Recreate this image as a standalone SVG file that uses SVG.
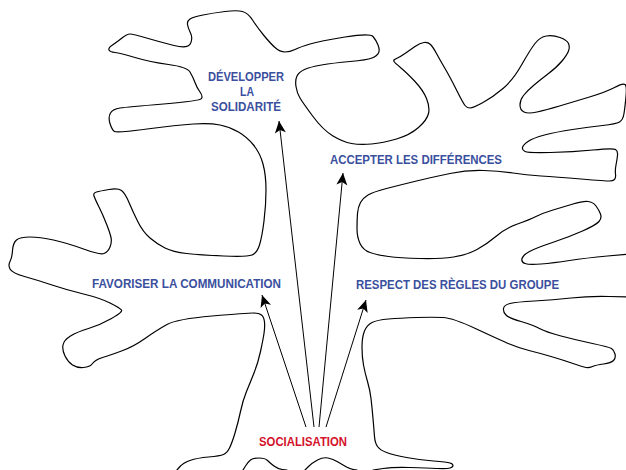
<svg xmlns="http://www.w3.org/2000/svg" width="626" height="470" viewBox="0 0 626 470">
<style>
.outline{fill:none;stroke:#000;stroke-width:1.2;stroke-linejoin:round;stroke-linecap:round}
.arrow{fill:none;stroke:#000;stroke-width:1}
.lbl{font-family:"Liberation Sans",Arial,sans-serif;font-weight:bold;font-size:13px;fill:#3a4f9e}
.root{font-family:"Liberation Sans",Arial,sans-serif;font-weight:bold;font-size:13px;fill:#d4112b}
</style>
<defs>
<marker id="head" markerUnits="userSpaceOnUse" markerWidth="14" markerHeight="12" refX="0" refY="0" viewBox="-13 -6 14 12" orient="auto">
<path d="M0,0 L-12,-5.5 L-9,0 L-12,5.5 Z" fill="#000"/>
</marker>
</defs>
<rect width="626" height="470" fill="#fff"/>
<g id="tree">
<path class="outline" d="M177,470 L180,466.5 Q183,463 190,460.5 Q197,458 208.5,457 Q220,456 223.5,454.5 Q227,453 229.5,448 Q232,443 235,433 Q238,423 240.5,411.5 Q243,400 246.5,391.5 Q250,383 254,373 Q258,363 260.5,351.5 Q263,340 264,333.5 Q265,327 264.5,322 Q264,317 261.5,315 Q259,313 253,313 Q247,313 212,316 Q177,319 167,324.5 Q157,330 145,338.5 Q133,347 121.5,351 Q110,355 102.5,357.5 Q95,360 92.5,363.5 Q90,367 83.5,367.5 Q77,368 72.5,365 Q68,362 65,356 Q62,350 63,345 Q64,340 70.5,336 Q77,332 88.5,328.5 Q100,325 111.5,318.5 Q123,312 121.5,310 Q120,308 110,303 Q100,298 83.5,294 Q67,290 52,285 Q37,280 24.5,276.5 Q12,273 10,269 Q8,265 10,261.5 Q12,258 12.5,250.5 Q13,243 16.5,240 Q20,237 30,237 Q40,237 53.5,240 Q67,243 83.5,249 Q100,255 104,253.5 Q108,252 110,247 Q112,242 111,237.5 Q110,233 106.5,224 Q103,215 99,207 Q95,199 94,196 Q93,193 96.5,192 Q100,191 109,189.5 Q118,188 121.5,190.5 Q125,193 129,202.5 Q133,212 138,222 Q143,232 150,238 Q157,244 165,248 Q173,252 186.5,253.5 Q200,255 223.5,256 Q247,257 252,255 Q257,253 259.5,245 Q262,237 264,221 Q266,205 266,190 Q266,175 263,164 Q260,153 253.5,145 Q247,137 238.5,132 Q230,127 220,125 Q210,123 193.5,124 Q177,125 147,129 Q117,133 114.5,131.5 Q112,130 110,123.5 Q108,117 110.5,113 Q113,109 120,108 Q127,107 163.5,104 Q200,101 201.5,98.5 Q203,96 200,92 Q197,88 195,82.5 Q193,77 190,72 Q187,67 168.5,64.5 Q150,62 135,57.5 Q120,53 115,52.5 Q110,52 109,50 Q108,48 112.5,45 Q117,42 122,38 Q127,34 130,34 Q133,34 146.5,38 Q160,42 174,45.5 Q188,49 190.5,43.5 Q193,38 190.5,33 Q188,28 187.5,24.5 Q187,21 190,19 Q193,17 203,15 Q213,13 225,11.5 Q237,10 242.5,11.5 Q248,13 252.5,20 Q257,27 263.5,35 Q270,43 275,47.5 Q280,52 285,52 Q290,52 295,49.5 Q300,47 310,44 Q320,41 345,37 Q370,33 373,36.5 Q376,40 378,45 Q380,50 378.5,53 Q377,56 372,58 Q367,60 350,61.5 Q333,63 321.5,65 Q310,67 304.5,69.5 Q299,72 297,76 Q295,80 296,86.5 Q297,93 300,98 Q303,103 313,116.5 Q323,130 333,136 Q343,142 351.5,143.5 Q360,145 371.5,144 Q383,143 396.5,139 Q410,135 418.5,127.5 Q427,120 428.5,113.5 Q430,107 426.5,98.5 Q423,90 415,81.5 Q407,73 401,68 Q395,63 394,61.5 Q393,60 396.5,58.5 Q400,57 405,53.5 Q410,50 415,46.5 Q420,43 424,42.5 Q428,42 430.5,44.5 Q433,47 436.5,53.5 Q440,60 445,68.5 Q450,77 456.5,90 Q463,103 465,105.5 Q467,108 470,108 Q473,108 483,102.5 Q493,97 503,88.5 Q513,80 521.5,65 Q530,50 535,43.5 Q540,37 546.5,36 Q553,35 560,37.5 Q567,40 568.5,43.5 Q570,47 568.5,51 Q567,55 562,61 Q557,67 548.5,73.5 Q540,80 533.5,85.5 Q527,91 523.5,95.5 Q520,100 520,105 Q520,110 524,112 Q528,114 537,112 Q546,110 559.5,106 Q573,102 589.5,97 Q606,92 614.5,87.5 Q623,83 625,84.5 Q627,86 626,96.5 Q625,107 624,113.5 Q623,120 619.5,122 Q616,124 602.5,125.5 Q589,127 572.5,129.5 Q556,132 544.5,135 Q533,138 528,141.5 Q523,145 522.5,147.5 Q522,150 525,151.5 Q528,153 550.5,152.5 Q573,152 593,150 Q613,148 615.5,149.5 Q618,151 617.5,155.5 Q617,160 616,165 Q615,170 615.5,174 Q616,178 614.5,179.5 Q613,181 609.5,181 Q606,181 581,179 Q556,177 541,176 Q526,175 513,173 Q500,171 483.5,170.5 Q467,170 450,173.5 Q433,177 416.5,181 Q400,185 386.5,188.5 Q373,192 368,195 Q363,198 360.5,202.5 Q358,207 357.5,213.5 Q357,220 357,228.5 Q357,237 360,243.5 Q363,250 370,252.5 Q377,255 388.5,256.5 Q400,258 420,258.5 Q440,259 453.5,257 Q467,255 477,249.5 Q487,244 496.5,236 Q506,228 517.5,224 Q529,220 536,216.5 Q543,213 553,210 Q563,207 573,204 Q583,201 588,201.5 Q593,202 596,206 Q599,210 600.5,214 Q602,218 599,221.5 Q596,225 582.5,231 Q569,237 552.5,242.5 Q536,248 529.5,251.5 Q523,255 522,258.5 Q521,262 525,263.5 Q529,265 541,264 Q553,263 569.5,260.5 Q586,258 607.5,256 L629,254 L629,297 L609,296.5 Q589,296 571,298 Q553,300 534.5,301 Q516,302 510,303.5 Q504,305 503.5,308.5 Q503,312 506,315 Q509,318 521,321.5 Q533,325 539.5,328.5 Q546,332 561,336 Q576,340 592.5,343.5 Q609,347 611.5,348.5 Q614,350 615,354 Q616,358 613.5,360.5 Q611,363 603.5,364 Q596,365 592.5,366.5 Q589,368 586,367.5 Q583,367 573,363.5 Q563,360 551,356.5 Q539,353 529,350.5 Q519,348 509.5,344 Q500,340 476.5,329 Q453,318 443,317.5 Q433,317 416.5,317.5 Q400,318 388.5,319 Q377,320 372,322.5 Q367,325 364.5,331 Q362,337 362,347 Q362,357 363.5,365 Q365,373 367.5,381.5 Q370,390 371,398.5 Q372,407 373,418.5 Q374,430 374.5,436.5 Q375,443 377.5,446.5 Q380,450 386.5,452.5 Q393,455 406.5,457.5 Q420,460 433.5,461 Q447,462 450,463 Q453,464 453,465.5 Q453,467 450,468 Q447,469 437,468.5 Q427,468 410,467.5 Q393,467 383,468.5 L373,470"/>
<path class="outline" d="M243,470 L245.5,466 Q248,462 250.5,460 Q253,458 259,458 Q265,458 267.5,460.5 Q270,463 274,466 Q278,469 282.5,469.5 L287,470"/>
<path class="outline" d="M305,470 L308.5,466.5 Q312,463 317.5,460 Q323,457 328,458 Q333,459 338,462 Q343,465 346.5,467 Q350,469 353.5,469.5 L357,470"/>
</g>
<g id="connectors">
<line class="arrow" x1="306" y1="427" x2="262" y2="295" marker-end="url(#head)"/>
<line class="arrow" x1="314" y1="427" x2="279" y2="121" marker-end="url(#head)"/>
<line class="arrow" x1="319" y1="427" x2="343" y2="173" marker-end="url(#head)"/>
<line class="arrow" x1="326" y1="427" x2="366" y2="300" marker-end="url(#head)"/>
</g>
<g id="node-developper">
<text class="lbl" x="208" y="81" textLength="76" lengthAdjust="spacingAndGlyphs">DÉVELOPPER</text>
<text class="lbl" x="240" y="96" textLength="14" lengthAdjust="spacingAndGlyphs">LA</text>
<text class="lbl" x="211" y="111" textLength="70" lengthAdjust="spacingAndGlyphs">SOLIDARITÉ</text>
</g>
<g id="node-accepter">
<text class="lbl" x="330" y="163.5" textLength="172" lengthAdjust="spacingAndGlyphs">ACCEPTER LES DIFFÉRENCES</text>
</g>
<g id="node-favoriser">
<text class="lbl" x="92" y="288" textLength="189" lengthAdjust="spacingAndGlyphs">FAVORISER LA COMMUNICATION</text>
</g>
<g id="node-respect">
<text class="lbl" x="356" y="289" textLength="203" lengthAdjust="spacingAndGlyphs">RESPECT DES RÈGLES DU GROUPE</text>
</g>
<g id="node-socialisation">
<text class="root" x="259" y="446" textLength="88" lengthAdjust="spacingAndGlyphs">SOCIALISATION</text>
</g>
</svg>
